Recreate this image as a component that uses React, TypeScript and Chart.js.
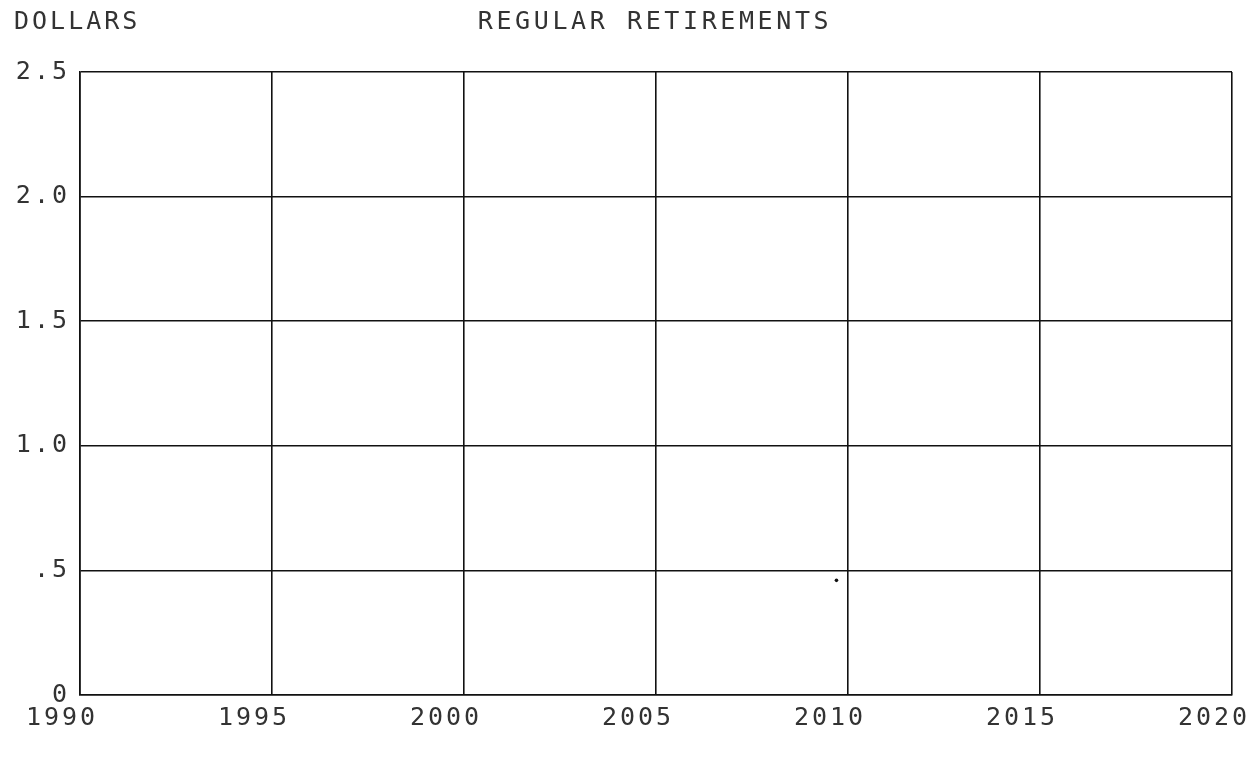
import React, { useEffect, useRef } from "react";
import { Chart, registerables } from "chart.js";

Chart.register(...registerables);

const titleText = "REGULAR RETIREMENTS";
const yAxisTitle = "DOLLARS";
const yearTicks = [1990, 1995, 2000, 2005, 2010, 2015, 2020];
const dollarTicks = [0, 0.5, 1.0, 1.5, 2.0, 2.5];
const pointYears = [2009.7];
const pointValues = [0.46];

const FONT = "'DejaVu Sans Mono', 'Liberation Mono', monospace";
const INK = "#333";

const fmtDollar = (v: number) => {
  if (v === 0) return "0";
  if (v < 1) return "." + String(Math.round(v * 10));
  return v.toFixed(1);
};

const spacingPlugin = {
  id: "spacing",
  beforeDraw(chart: any) {
    chart.ctx.letterSpacing = "3px";
  },
};

const headerPlugin = {
  id: "header",
  afterDraw(chart: any) {
    const ctx = chart.ctx;
    const area = chart.chartArea;
    ctx.save();
    ctx.fillStyle = INK;
    ctx.font = `25px ${FONT}`;
    ctx.textBaseline = "middle";
    ctx.textAlign = "left";
    ctx.letterSpacing = "3px";
    ctx.fillText(yAxisTitle, 14, 22);
    ctx.letterSpacing = "3.6px";
    ctx.textAlign = "center";
    ctx.fillText(titleText, (area.left + area.right) / 2 - 1, 22);
    ctx.restore();
  },
};

export default function App() {
  const ref = useRef<HTMLCanvasElement | null>(null);
  useEffect(() => {
    if (!ref.current) return;
    const chart = new Chart(ref.current, {
      type: "scatter",
      data: {
        datasets: [
          {
            data: pointYears.map((x, i) => ({ x, y: pointValues[i] })),
            pointRadius: 1.8,
            pointBackgroundColor: "#111",
            pointBorderColor: "#111",
            borderWidth: 0,
          },
        ],
      },
      options: {
        animation: false,
        responsive: false,
        maintainAspectRatio: false,
        layout: { padding: { top: 72, right: 19, left: 0, bottom: 0 } },
        plugins: {
          legend: { display: false },
          tooltip: { enabled: false },
          title: { display: false },
        },
        scales: {
          x: {
            type: "linear",
            min: yearTicks[0],
            max: yearTicks[yearTicks.length - 1],
            afterBuildTicks: (s: any) => {
              s.ticks = yearTicks.map((v) => ({ value: v }));
            },
            afterFit: (s: any) => {
              s.height = 63;
              s.paddingLeft = 0;
              s.paddingRight = 0;
            },
            grid: { color: "#111", lineWidth: 1.6, drawTicks: false },
            border: { color: "#111", width: 1.6 },
            ticks: {
              color: INK,
              font: { family: FONT, size: 25 },
              padding: 8,
              labelOffset: -18,
              maxRotation: 0,
              autoSkip: false,
              callback: (v: any) => String(v),
            },
          },
          y: {
            type: "linear",
            min: dollarTicks[0],
            max: dollarTicks[dollarTicks.length - 1],
            afterBuildTicks: (s: any) => {
              s.ticks = dollarTicks.map((v) => ({ value: v }));
            },
            afterFit: (s: any) => {
              s.width = 80;
              s.paddingTop = 0;
              s.paddingBottom = 0;
            },
            grid: { color: "#111", lineWidth: 1.6, drawTicks: false },
            border: { color: "#111", width: 1.6 },
            ticks: {
              color: INK,
              font: { family: FONT, size: 25 },
              padding: 10,
              autoSkip: false,
              callback: (v: any) => fmtDollar(Number(v)),
            },
          },
        },
      },
      plugins: [spacingPlugin, headerPlugin],
    } as any);
    return () => chart.destroy();
  }, []);
  return (
    <div style={{ position: "fixed", left: 0, top: 0, width: 1251, height: 758, background: "#fff" }}>
      <canvas ref={ref} width={1251} height={758} style={{ display: "block" }} />
    </div>
  );
}
